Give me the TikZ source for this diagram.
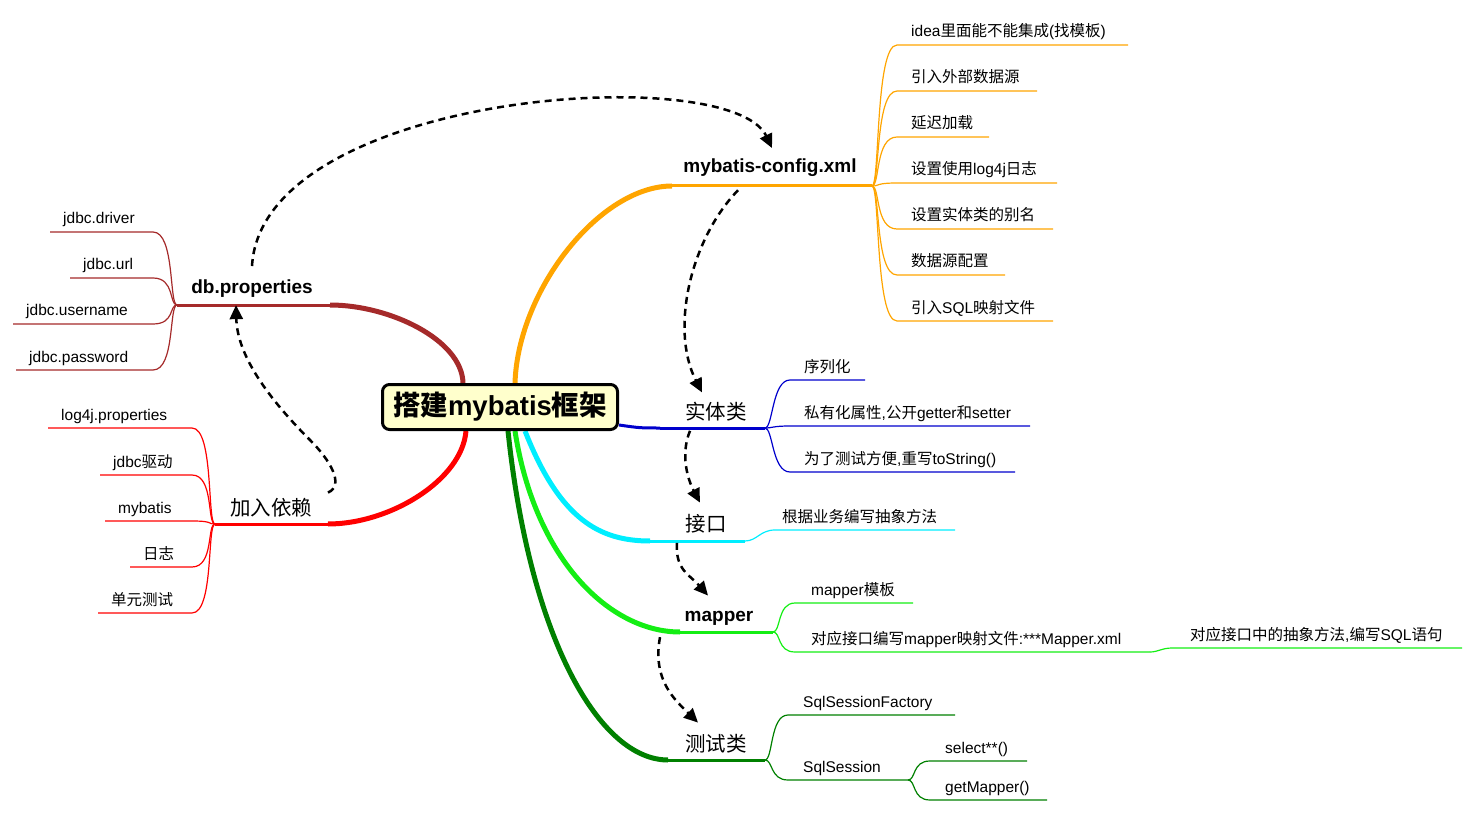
\documentclass[tikz,border=0pt]{standalone}
\usepackage{fontspec}
\setmainfont{Liberation Sans}
\newfontfamily\zhfont{Noto Sans CJK SC}
\usetikzlibrary{arrows.meta,backgrounds}

\XeTeXinterchartokenstate=1
\newXeTeXintercharclass\zhclass
\newcount\zhc
\zhc="4E00
\loop\ifnum\zhc<"A000 \XeTeXcharclass\zhc=\zhclass \advance\zhc by 1 \repeat
\XeTeXinterchartoks 0 \zhclass={\begingroup\zhfont}
\XeTeXinterchartoks 4095 \zhclass={\begingroup\zhfont}
\XeTeXinterchartoks \zhclass 0={\endgroup}
\XeTeXinterchartoks \zhclass 4095={\endgroup}

\definecolor{brn}{RGB}{165,42,42}
\definecolor{org}{RGB}{255,165,0}
\definecolor{blu}{RGB}{0,0,204}
\definecolor{cyn}{RGB}{0,238,255}
\definecolor{lim}{RGB}{20,238,20}
\definecolor{dgr}{RGB}{0,128,0}
\definecolor{hubfill}{RGB}{255,255,204}

\tikzset{
  hub/.style={draw=black, line width=3pt, rounded corners=7pt, fill=hubfill, minimum width=235pt, minimum height=45pt, font=\bfseries\fontsize{27.5}{27.5}\selectfont},
  topic/.style={anchor=base, inner sep=0pt, font=\fontsize{20.5}{20.5}\selectfont},
  btopic/.style={anchor=base, inner sep=0pt, font=\bfseries\fontsize{19}{19}\selectfont},
  leaf/.style={anchor=base west, inner sep=0pt, font=\fontsize{15.5}{15.5}\selectfont},
  trunk/.style={line width=5pt},
  stem/.style={line width=3pt},
  twig/.style={line width=1.2pt},
  hop/.style={line width=2.5pt, dash pattern=on 7pt off 5pt, -{Triangle[length=14pt,width=13pt]}},
}

\begin{document}
\begin{tikzpicture}[x=1pt,y=-1pt]
\useasboundingbox (0,0) rectangle (1476,813);

\node[hub] (hub) at (500,407) {搭建mybatis框架};

\node[btopic] (dbp) at (252,294) {db.properties};
\node[topic] (dep) at (271,515) {加入依赖};
\node[btopic] (cfg) at (770,173) {mybatis-config.xml};
\node[topic] (ent) at (716,419) {实体类};
\node[topic] (itf) at (706,531) {接口};
\node[btopic] (map) at (719,621) {mapper};
\node[topic] (tst) at (716,751) {测试类};

\coordinate (dbpbend) at (330,305);  \coordinate (dbpfork) at (177,305);
\coordinate (depbend) at (328,524);  \coordinate (depfork) at (215,524);
\coordinate (cfgbend) at (672,186);  \coordinate (cfgfork) at (872,186);
\coordinate (entbend) at (660,428);  \coordinate (entfork) at (765,428);
\coordinate (itfbend) at (650,541);  \coordinate (itffork) at (745,541);
\coordinate (mapbend) at (680,632);  \coordinate (mapfork) at (773,632);
\coordinate (tstbend) at (668,760);  \coordinate (tstfork) at (765,760);
\coordinate (mapfork2) at (1150,652);
\coordinate (tstfork2) at (908,780);

\begin{scope}[on background layer]
  \draw[trunk,brn] ([xshift=-37pt]hub.north) .. controls (462,340) and (390,305) .. (dbpbend);
  \draw[trunk,red] ([xshift=-34pt]hub.south) .. controls (462,480) and (390,524) .. (depbend);
  \draw[trunk,org] ([xshift=15pt]hub.north) .. controls (518,290) and (600,186) .. (cfgbend);
  \draw[stem,blu] ([yshift=-18pt]hub.east) .. controls (640,428) .. (entbend);
  \draw[trunk,cyn] ([xshift=25pt]hub.south) .. controls (560,520) and (600,541) .. (itfbend);
  \draw[trunk,lim] ([xshift=15pt]hub.south) .. controls (535,560) and (610,632) .. (mapbend);
  \draw[trunk,dgr] ([xshift=8pt]hub.south) .. controls (530,640) and (600,760) .. (tstbend);
\end{scope}
\draw[stem,brn] (dbpbend) -- (dbpfork);
\draw[stem,red] (depbend) -- (depfork);
\draw[stem,org] (cfgbend) -- (cfgfork);
\draw[stem,blu] (entbend) -- (entfork);
\draw[stem,cyn] (itfbend) -- (itffork);
\draw[stem,lim] (mapbend) -- (mapfork);
\draw[stem,dgr] (tstbend) -- (tstfork);

\foreach \yy/\xa/\lbl [count=\i] in {232/50/jdbc.driver, 278/70/jdbc.url, 324/13/jdbc.username, 370/16/jdbc.password}{
  \node[leaf] (dbp\i) at (\xa+13,\yy-8) {\lbl};
  \draw[twig,brn] (dbpfork) .. controls +(-8,0) and +(22,0) .. (153,\yy) -- (\xa,\yy);
}
\foreach \yy/\xa/\lbl [count=\i] in {428/48/log4j.properties, 475/100/jdbc驱动, 521/105/mybatis, 567/130/日志, 613/98/单元测试}{
  \node[leaf] (dep\i) at (\xa+13,\yy-8) {\lbl};
  \draw[twig,red] (depfork) .. controls +(-8,0) and +(22,0) .. (192,\yy) -- (\xa,\yy);
}
\foreach \yy/\xb/\lbl [count=\i] in {45/1128/{idea里面能不能集成(找模板)}, 91/1037/引入外部数据源, 137/989/延迟加载, 183/1057/设置使用log4j日志, 229/1053/设置实体类的别名, 275/1005/数据源配置, 321/1053/引入SQL映射文件}{
  \node[leaf] (cfg\i) at (911,\yy-8) {\lbl};
  \draw[twig,org] (cfgfork) .. controls +(8,0) and +(-22,0) .. (897,\yy) -- (\xb,\yy);
}
\foreach \yy/\xb/\lbl [count=\i] in {380/865/序列化, 426/1030/{私有化属性,公开getter和setter}, 472/1015/{为了测试方便,重写toString()}}{
  \node[leaf] (ent\i) at (804,\yy-8) {\lbl};
  \draw[twig,blu] (entfork) .. controls +(8,0) and +(-18,0) .. (790,\yy) -- (\xb,\yy);
}
\node[leaf] (itf1) at (782,522) {根据业务编写抽象方法};
\draw[twig,cyn] (itffork) .. controls +(12,0) and +(-15,0) .. (775,530) -- (955,530);
\foreach \yy/\xb/\lbl [count=\i] in {603/913/mapper模板, 652/1150/{对应接口编写mapper映射文件:***Mapper.xml}}{
  \node[leaf] (map\i) at (811,\yy-8) {\lbl};
  \draw[twig,lim] (mapfork) .. controls +(8,0) and +(-18,0) .. (795,\yy) -- (\xb,\yy);
}
\node[leaf] (map3) at (1190,640) {对应接口中的抽象方法,编写SQL语句};
\draw[twig,lim] (mapfork2) .. controls +(8,0) and +(-10,0) .. (1172,648) -- (1462,648);
\foreach \yy/\xb/\lbl [count=\i] in {715/955/SqlSessionFactory, 780/908/SqlSession}{
  \node[leaf] (tst\i) at (803,\yy-8) {\lbl};
  \draw[twig,dgr] (tstfork) .. controls +(8,0) and +(-18,0) .. (788,\yy) -- (\xb,\yy);
}
\foreach \yy/\xb/\lbl [count=\i] in {761/1027/select**(), 800/1047/getMapper()}{
  \node[leaf] (sql\i) at (945,\yy-8) {\lbl};
  \draw[twig,dgr] (tstfork2) .. controls +(8,0) and +(-18,0) .. (930,\yy) -- (\xb,\yy);
}

\draw[hop] ([yshift=14pt]dbp.north) .. controls (262,92) and (730,60) .. ([xshift=2pt,yshift=11pt]cfg.north);
\draw[hop] ([xshift=57pt,yshift=5pt]dep.north) .. controls (345,485) and (330,460) .. (310,440) .. controls (260,390) and (237,350) .. ([xshift=-16pt,yshift=-7pt]dbp.south);
\draw[hop] ([xshift=-32pt,yshift=-13pt]cfg.south) .. controls (690,240) and (670,330) .. ([xshift=-14pt,yshift=9pt]ent.north);
\draw[hop] ([xshift=-26pt,yshift=-10pt]ent.south) .. controls (680,455) and (688,480) .. ([xshift=-6pt,yshift=11pt]itf.north);
\draw[hop] ([xshift=-29pt,yshift=-10pt]itf.south) .. controls (675,570) and (690,575) .. ([xshift=-11pt,yshift=15pt]map.north);
\draw[hop] ([xshift=-59pt,yshift=-12pt]map.south) .. controls (652,680) and (675,700) .. ([xshift=-18pt,yshift=11pt]tst.north);
\end{tikzpicture}
\end{document}
